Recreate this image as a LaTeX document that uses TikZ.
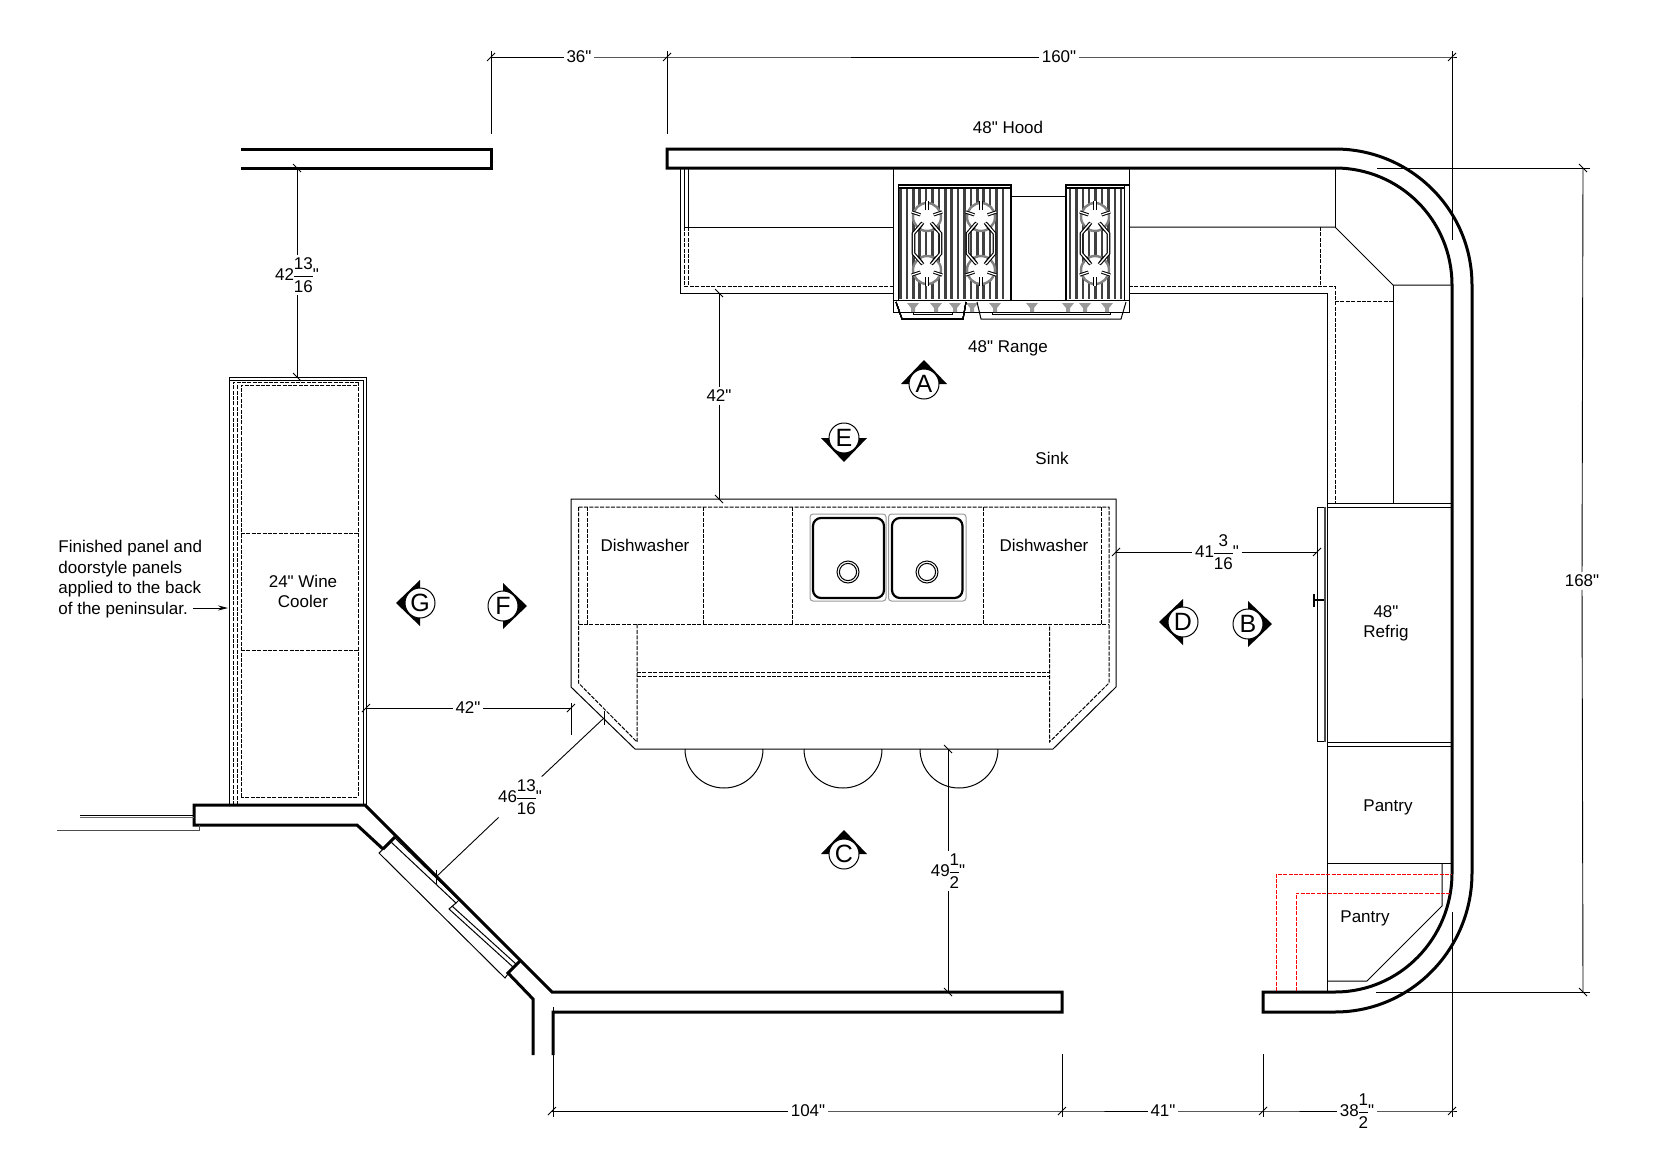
\documentclass[tikz,border=0pt]{standalone}
\usepackage{amsmath}
\usepackage{fontspec}
\setmainfont{Liberation Sans}[Ligatures=TeXOff]
\usetikzlibrary{arrows.meta}

\newcommand{\frc}[2]{{\nulldelimiterspace=0pt$\dfrac{\text{#1}}{\text{#2}}$}}
\newcommand{\tickh}[1]{\draw[dimline] (#1) ++(-4,4) -- ++(8,-8);}
\newcommand{\tickv}[1]{\draw[dimline] (#1) ++(-4,-4) -- ++(8,8);}
\newcommand{\viewmark}[4]{
    \fill[shift={(#2)},rotate=#3] (24,0) -- (0,23) -- (0,-23) -- cycle;
    \node[viewcircle] (#1) at (#2) {#4};
}
\newcommand{\knob}[1]{\fill[black!40] (#1-6,303) -- (#1+6,303) -- (#1+2,308) -- (#1+2,312) -- (#1-2,312) -- (#1-2,308) -- cycle;}

\tikzset{
    wall/.style={line width=1.5pt,line join=miter},
    cab/.style={line width=.5pt},
    dsh/.style={line width=.5pt,dash pattern=on 2pt off .7pt},
    dimline/.style={line width=.45pt},
    dimlab/.style={inner sep=1.2pt},
    lbl/.style={align=center,inner sep=0pt},
    viewcircle/.style={circle,draw,fill=white,line width=.5pt,minimum size=15pt,inner sep=0pt,font=\fontsize{12.5}{12.5}\selectfont},
    bar/.style={line width=1.25pt,black!75},
    burnerpair/.pic={
        \foreach \b/\t in {-26.5/270,26.5/90}{
            \fill[white] (0,\b) circle[radius=7pt];
            \draw[black!50,line width=1.2pt] (0,\b) circle[radius=7pt];
            \foreach \a in {0,72,144,216,288}
                \draw[line width=.5pt,double=white,double distance=.6pt] (0,\b) ++(\t+\a:7) -- ++(\t+\a:9);
        }
        \foreach \s in {-1,1}
            \draw[line width=.55pt,double=white,double distance=.7pt] (\s*5,-20) -- (\s*13.5,-10) -- (\s*13.5,10) -- (\s*5,20);
    },
    every node/.style={font=\fontsize{8.5}{10}\selectfont},
}

\begin{document}
\begin{tikzpicture}[x=.5pt,y=-.5pt]
    \useasboundingbox (0,0) rectangle (1656,1167);

    % walls
    \draw[wall] (241,149) -- (491,149) -- (491,168) -- (241,168);
    \draw[wall] (1263,992) -- (1335,992) to[out=0,in=-90] (1452,873) -- (1452,285) to[out=90,in=0] (1335,168) -- (667,168) -- (667,149) -- (1335,149) to[out=0,in=90] (1472,285) -- (1472,873) to[out=-90,in=0] (1335,1012) -- (1263,1012) -- cycle;
    \draw[wall] (383,849) -- (357,825) -- (194,825) -- (194,805) -- (365,805) -- (552,992) -- (1062,992) -- (1062,1012) -- (553,1012) -- (553,1055);
    \draw[wall] (533,1055) -- (533,999) -- (508,973) -- (520,961);
    \draw[wall] (383,849) -- (395,837);
    \draw[cab] (80,815) -- (194,815);
    \draw[cab,black!60] (80,817) -- (194,817);
    \draw[cab,black!70] (57,830) -- (199,830) -- (199,825);

    % sliding door
    \draw[cab] (379,853) -- (391,842) -- (456,903) -- (449,909) -- (513,967) -- (505,978) -- cycle;
    \draw[cab] (395,838) -- (459,900) -- (456,903);
    \draw[cab] (452,906) -- (516,964);

    % back run and hood
    \draw[cab] (684,168) -- (684,227);
    \draw[cab] (688,168) -- (688,227);
    \draw[cab] (680,168) -- (680,293) -- (893,293);
    \draw[cab] (684,227) -- (893,227);
    \draw[dsh] (684,227) -- (684,286) -- (893,286);
    \draw[dsh] (688,227) -- (688,286);
    \draw[cab] (1129,227) -- (1335,227) -- (1393,285) -- (1452,285);
    \draw[cab] (1335,168) -- (1335,227);
    \draw[cab] (1393,285) -- (1393,503);
    \draw[dsh] (1320,227) -- (1320,285);
    \draw[dsh] (1129,286) -- (1335,286) -- (1335,503);
    \draw[dsh] (1335,301) -- (1393,301);
    \draw[cab] (1129,293) -- (1327,293) -- (1327,992);

    % range
    \draw[cab] (893,168) rectangle (1129,312);
    \draw[cab] (898,185) -- (898,300);
    \draw[cab] (1124,185) -- (1124,300);
    \draw[line width=.7pt] (893,300.5) -- (1129,300.5);
    \draw[line width=.7pt] (898,185) -- (1011,185) -- (1011,300);
    \draw[line width=.7pt] (1066,300) -- (1066,185) -- (1129,185);
    \draw[line width=.7pt] (898,188) -- (1011,188);
    \draw[line width=.7pt] (1066,188) -- (1124,188);
    \draw[cab] (1011,196) -- (1066,196);
    \foreach \x in {900.5,906.9,...,1009}
        \draw[bar] (\x,189) -- (\x,299);
    \foreach \x in {1070,1076.4,...,1122.5}
        \draw[bar] (\x,189) -- (\x,299);
    \pic at (927,243.5) {burnerpair};
    \pic at (981,243.5) {burnerpair};
    \pic at (1095,243.5) {burnerpair};
    \foreach \x in {913,936,955,972,995,1032,1068,1085,1107}
        \knob{\x}
    \draw[cab] (896,302) -- (902,319) -- (963,319) -- (966,302);
    \draw[cab] (977,302) -- (981,319) -- (1121,319) -- (1126,302);
    \draw[cab] (913,312) -- (913,314) -- (952,314) -- (952,312);
    \draw[cab] (992,312) -- (992,314) -- (1110,314) -- (1110,312);

    % peninsula
    \draw[cab] (229,805) -- (229,377) -- (366,377) -- (366,805);
    \draw[cab] (363,805) -- (363,380) -- (229,380);
    \draw[dsh] (233,805) -- (233,382) -- (358,382);
    \draw[dsh] (237,805) -- (237,385);
    \draw[dsh] (241,797) -- (241,385) -- (358,385);
    \draw[dsh] (358,382) -- (358,797) -- (241,797);
    \draw[dsh] (241,533) -- (358,533);
    \draw[dsh] (241,650) -- (358,650);
    \node[lbl] (wine) at (303,591) {24" Wine\\Cooler};

    % island
    \draw[cab] (571,499) -- (1116,499) -- (1116,687) -- (1053,749) -- (635,749) -- (571,687) -- cycle;
    \draw[dsh] (578.5,507) -- (1109,507) -- (1109,683) -- (1049.5,742) -- (1049.5,624);
    \draw[dsh] (578.5,507) -- (578.5,683) -- (637,742) -- (637,624);
    \draw[dsh] (578.5,624) -- (1109,624);
    \foreach \x in {587,703.6,792,983.6,1101}
        \draw[dsh] (\x,507) -- (\x,624);
    \draw[dsh] (637,672) -- (1049.5,672);
    \draw[dsh] (637,676) -- (1049.5,676);
    \draw[cab,black!40,rounded corners=1.5pt] (810,514) rectangle (886,601);
    \draw[cab,black!40,rounded corners=1.5pt] (888.5,514) rectangle (966,601);
    \draw[line width=1.1pt,rounded corners=4pt] (813,518) rectangle (884,598);
    \draw[line width=1.1pt,rounded corners=4pt] (892,518) rectangle (962.5,598);
    \foreach \x in {848,927}{
        \draw[cab] (\x,572) circle[radius=5.5pt];
        \draw[cab] (\x,572) circle[radius=4.3pt];
    }
    \foreach \x in {685,804,920}
        \draw[cab] (\x,749) to[out=-90,in=180] ++(39,39) to[out=0,in=-90] ++(39,-39);

    % refrigerator and pantries
    \draw[cab] (1327,503) -- (1452,503);
    \draw[cab] (1327,507) -- (1452,507);
    \draw[cab] (1327,742) -- (1452,742);
    \draw[cab] (1327,746) -- (1452,746);
    \draw[cab] (1324,507) -- (1317,507) -- (1317,741) -- (1324,741);
    \draw[line width=.8pt,black!70] (1325,507) -- (1325,742);
    \draw[line width=1.2pt] (1314,594) -- (1314,607);
    \draw[line width=.9pt] (1314,600) -- (1324,600);
    \draw[cab] (1327,863) -- (1452,863);
    \draw[cab] (1442,863) -- (1442,906) -- (1367,981) -- (1327,981);
    \draw[dsh,red] (1276,991) -- (1276,874) -- (1452,874);
    \draw[dsh,red] (1296,991) -- (1296,893) -- (1450,893);
    \node[lbl] (fridge) at (1386,623) {48"\\Refrig};
    \node[lbl] (pantryA) at (1388,807) {Pantry};
    \node[lbl] (pantryB) at (1365,918) {Pantry};

    % labels
    \node[lbl] (hood) at (1008,127) {48" Hood};
    \node[lbl] (range) at (1008,348) {48" Range};
    \node[lbl] (sink) at (1052,458) {Sink};
    \node[lbl] (dwA) at (645,545) {Dishwasher};
    \node[lbl] (dwB) at (1044,545) {Dishwasher};
    \node[lbl,align=left,anchor=west] (finished) at (58,579) {Finished panel and\\[.2pt]doorstyle panels\\[.2pt]applied to the back\\[.2pt]of the peninsular.};
    \coordinate (finA) at (193,608);
    \coordinate (finB) at (228,608);
    \draw[dimline,-{Stealth[length=5pt,width=2.5pt]}] (finA) -- (finB);

    % view markers
    \viewmark{markA}{924,384}{90}{A}
    \viewmark{markB}{1248,624}{0}{B}
    \viewmark{markC}{844,854}{90}{C}
    \viewmark{markD}{1183,622}{180}{D}
    \viewmark{markE}{844,438}{270}{E}
    \viewmark{markF}{503,606}{0}{F}
    \viewmark{markG}{420,603}{180}{G}

    % dimensions
    \coordinate (topA) at (491,57);
    \coordinate (topB) at (667,57);
    \coordinate (topC) at (1452,57);
    \node[dimlab] (d36) at (579,57) {36"};
    \node[dimlab] (d160) at (1059,57) {160"};
    \draw[dimline] (topA) -- (d36) -- (topB) -- (d160) -- (topC) -- ++(5,0);
    \tickh{topA} \tickh{topB} \tickh{topC}
    \draw[dimline] (491,51) -- (491,134);
    \draw[dimline] (667,51) -- (667,134);
    \draw[dimline] (1452,51) -- (1452,240);

    \coordinate (botA) at (552,1111);
    \coordinate (botB) at (1062,1111);
    \coordinate (botC) at (1263,1111);
    \coordinate (botD) at (1452,1111);
    \node[dimlab] (d104) at (808,1111) {104"};
    \node[dimlab] (d41) at (1163,1111) {41"};
    \node[dimlab] (d38) at (1357,1111) {38\frc{1}{2}"};
    \draw[dimline] (botA) -- (d104) -- (botB) -- (d41) -- (botC) -- (d38) -- (botD) -- ++(5,0);
    \tickh{botA} \tickh{botB} \tickh{botC} \tickh{botD}
    \draw[dimline] (553,1007) -- (553,1117);
    \draw[dimline] (1062,1054) -- (1062,1117);
    \draw[dimline] (1263,1054) -- (1263,1117);
    \draw[dimline] (1452,912) -- (1452,1117);

    \coordinate (rightA) at (1583,168);
    \coordinate (rightB) at (1583,992);
    \node[dimlab] (d168) at (1582,581) {168"};
    \draw[dimline] (rightA) -- (d168) -- (rightB);
    \tickv{rightA} \tickv{rightB}
    \draw[dimline] (1377,168) -- (1590,168);
    \draw[dimline] (1376,992) -- (1590,992);

    \coordinate (penA) at (297,168);
    \coordinate (penB) at (297,377);
    \node[dimlab] (d42a) at (297,275) {42\frc{13}{16}"};
    \draw[dimline] (penA) -- (d42a) -- (penB);
    \tickv{penA} \tickv{penB}

    \coordinate (hobA) at (719,293);
    \coordinate (hobB) at (719,499);
    \node[dimlab] (d42b) at (719,396) {42"};
    \draw[dimline] (hobA) -- (d42b) -- (hobB);
    \tickv{hobA} \tickv{hobB}

    \coordinate (aisleA) at (1116,552);
    \coordinate (aisleB) at (1317,552);
    \node[dimlab] (d41a) at (1217,552) {41\frc{3}{16}"};
    \draw[dimline] (aisleA) -- (d41a) -- (aisleB);
    \tickh{aisleA} \tickh{aisleB}

    \coordinate (walkA) at (366,708);
    \coordinate (walkB) at (571,708);
    \node[dimlab] (d42c) at (468,708) {42"};
    \draw[dimline] (walkA) -- (d42c) -- (walkB);
    \tickh{walkA} \tickh{walkB}
    \draw[dimline] (571,703) -- (571,735);

    \coordinate (diagA) at (604,718);
    \coordinate (diagB) at (436,877);
    \node[dimlab] (d46) at (520,797) {46\frc{13}{16}"};
    \draw[dimline] (diagA) -- (d46) -- (diagB);
    \draw[dimline] (604,711) -- (604,725);
    \draw[dimline] (436,870) -- (436,884);

    \coordinate (seatA) at (948,749);
    \coordinate (seatB) at (948,992);
    \node[dimlab] (d49) at (948,871) {49\frc{1}{2}"};
    \draw[dimline] (seatA) -- (d49) -- (seatB);
    \tickv{seatA} \tickv{seatB}
\end{tikzpicture}
\end{document}
